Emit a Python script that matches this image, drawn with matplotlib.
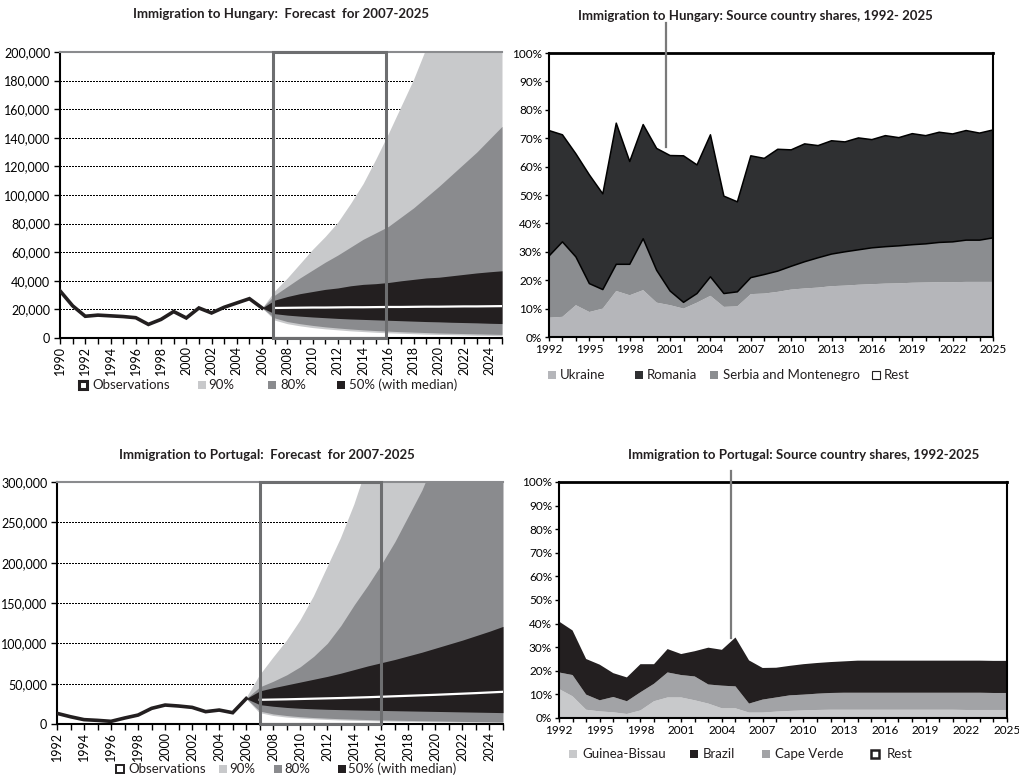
import numpy as np
import matplotlib
matplotlib.use("Agg")
import matplotlib.pyplot as plt
from matplotlib.patches import Rectangle
from matplotlib.ticker import FuncFormatter, MultipleLocator

plt.rcParams["font.family"] = ["Lato", "DejaVu Sans"]
plt.rcParams["font.size"] = 8.5

# ---- forecast data (persons per year) ----
hu_obs_years = np.arange(1990, 2007)
hu_obs = [33000, 22500, 15200, 16000, 15500, 15000, 14200, 9500, 13000, 18500,
          14000, 21000, 17500, 21500, 24500, 27500, 21000]

pt_obs_years = np.arange(1992, 2007)
pt_obs = [13200, 9000, 5400, 4500, 3300, 7400, 11100, 19400, 23500, 22300,
          20600, 15300, 17300, 14000, 31500]

fc_years = np.arange(2007, 2026)

hu_hi90 = [33000, 42000, 52000, 62000, 71000, 81000, 94000, 108000, 125000, 143000,
           162000, 181000, 203000, 226000, 250000, 276000, 304000, 334000, 366000]
hu_hi80 = [30000, 36000, 42000, 47500, 53000, 58000, 63500, 69000, 73500, 78000,
           84500, 91000, 98500, 106000, 114000, 122000, 130000, 139000, 148000]
hu_hi50 = [26500, 29000, 31000, 32500, 34000, 35000, 36500, 37500, 38000, 38800,
           40000, 41000, 42000, 42500, 43500, 44500, 45500, 46300, 47000]
hu_median = [21000, 21100, 21200, 21300, 21300, 21400, 21500, 21500, 21600, 21700,
             21700, 21800, 21900, 21900, 22000, 22100, 22100, 22200, 22300]
hu_lo50 = [17000, 16000, 15300, 14700, 14200, 13700, 13300, 13000, 12700, 12400,
           12100, 11800, 11500, 11300, 11000, 10800, 10600, 10300, 10100]
hu_lo80 = [14000, 11500, 10000, 8800, 7800, 7000, 6300, 5700, 5200, 4800,
           4400, 4100, 3800, 3500, 3300, 3100, 2900, 2700, 2500]
hu_lo90 = [12500, 10000, 8500, 7300, 6400, 5700, 5000, 4500, 4000, 3600,
           3300, 3000, 2700, 2500, 2300, 2100, 1900, 1800, 1600]

pt_hi90 = [60000, 82000, 103000, 128000, 158000, 194000, 230000, 272000, 322000, 380000,
           450000, 530000, 620000, 720000, 840000, 980000, 1140000, 1320000, 1530000]
pt_hi80 = [46000, 53000, 61000, 71000, 84000, 100000, 122000, 148000, 172000, 198000,
           226000, 258000, 290000, 330000, 370000, 415000, 465000, 520000, 580000]
pt_hi50 = [41000, 45000, 48500, 52000, 55500, 59000, 63000, 67500, 72000, 76000,
           80000, 84500, 89000, 94000, 99000, 104000, 109500, 115000, 121000]
pt_median = [30000, 30300, 30600, 31000, 31400, 31800, 32200, 32700, 33200, 33800,
             34400, 35000, 35600, 36200, 36900, 37600, 38300, 39100, 39900]
pt_lo50 = [24000, 22000, 20500, 19500, 18800, 18200, 17800, 17400, 17100, 16800,
           16500, 16200, 15900, 15600, 15300, 15000, 14700, 14400, 14100]
pt_lo80 = [16000, 12500, 10500, 9000, 8000, 7200, 6500, 6000, 5500, 5000,
           4700, 4400, 4100, 3800, 3500, 3200, 3000, 2800, 2600]
pt_lo90 = [13500, 10000, 8000, 6800, 5800, 5000, 4400, 3900, 3500, 3100,
           2800, 2500, 2300, 2100, 1900, 1700, 1600, 1500, 1400]

# highlighted forecast window
hu_window = (2006.9, 2015.8)
pt_window = (2007.0, 2016.0)

# ---- source country shares (%) ----
share_years = np.arange(1992, 2026)

hu_ukraine = [6.8, 7.1, 11.2, 8.8, 10.0, 16.2, 14.7, 16.5, 12.1, 11.2,
              10.0, 12.1, 14.5, 10.6, 10.8, 15.1, 15.3, 15.9, 16.7, 17.1,
              17.4, 17.9, 18.1, 18.4, 18.6, 18.8, 18.9, 19.1, 19.2, 19.3,
              19.3, 19.4, 19.4, 19.4]
hu_serbia = [21.7, 26.4, 17.0, 10.0, 6.7, 9.4, 10.9, 18.1, 11.4, 5.0,
             2.2, 3.2, 6.7, 4.7, 5.1, 5.8, 6.7, 7.3, 8.2, 9.4,
             10.5, 11.3, 11.9, 12.3, 12.8, 13.0, 13.2, 13.4, 13.6, 14.0,
             14.2, 14.7, 14.7, 15.5]
hu_romania = [44.2, 37.7, 36.3, 38.3, 33.7, 49.7, 36.2, 40.2, 42.9, 47.7,
              51.6, 45.3, 50.0, 34.3, 31.7, 42.9, 40.9, 42.9, 41.0, 41.5,
              39.5, 39.9, 38.7, 39.4, 38.1, 39.1, 38.1, 39.1, 38.1, 38.8,
              38.0, 38.6, 37.7, 38.0]

pt_guinea = [12.3, 9.2, 3.5, 2.8, 2.4, 1.7, 3.2, 7.1, 8.7, 8.7,
             7.5, 6.1, 4.1, 4.1, 2.3, 2.3, 2.7, 3.0, 3.2, 3.4,
             3.5, 3.5, 3.5, 3.5, 3.5, 3.5, 3.5, 3.5, 3.5, 3.5,
             3.4, 3.4, 3.4, 3.4]
pt_capeverde = [7.0, 9.0, 6.4, 4.7, 6.5, 5.4, 7.7, 7.4, 10.6, 9.5,
                10.1, 8.1, 9.6, 9.3, 3.8, 5.5, 6.0, 6.6, 6.7, 6.9,
                7.1, 7.2, 7.2, 7.2, 7.2, 7.2, 7.2, 7.2, 7.2, 7.2,
                7.3, 7.3, 7.2, 7.2]
pt_brazil = [21.6, 18.9, 15.1, 15.1, 10.1, 10.1, 11.9, 8.3, 9.9, 8.9,
             10.7, 15.6, 15.2, 20.7, 18.3, 13.4, 12.6, 12.5, 12.9, 13.0,
             13.1, 13.3, 13.6, 13.6, 13.6, 13.6, 13.6, 13.6, 13.6, 13.6,
             13.6, 13.6, 13.6, 13.6]

# pointer lines (year, share where the line stops, share at the top)
hu_pointer = (2000.7, 66.9, 110.6)
pt_pointer = (2004.7, 34.0, 104.7)

C90, C80, C50 = "#c8c9cb", "#8a8b8e", "#231f20"

W, H = 1020, 781
fig = plt.figure(figsize=(W / 100, H / 100), dpi=100)


def px_axes(x0, y0, x1, y1):
    return fig.add_axes([x0 / W, 1 - y1 / H, (x1 - x0) / W, (y1 - y0) / H])


def title(x, y, text):
    fig.text(x / W, 1 - y / H, text, ha="center", va="center",
             fontsize=9.5, fontweight="bold", color="#231f20")


def legend_row(y, items):
    # items: (marker centre x, text x, label, face, edge, edge width)
    s = 8
    for mx, tx, label, face, edge, lw in items:
        fig.add_artist(Rectangle(((mx - s / 2) / W, 1 - (y + s / 2) / H), s / W, s / H,
                                 transform=fig.transFigure, fc=face, ec=edge, lw=lw))
        fig.text(tx / W, 1 - y / H, label, va="center", fontsize=9.5, color="#231f20")


def fan_chart(ax, obs_years, obs, bands, median, ymax, ystep, window, label_years):
    # bands start from the last observed value
    x = np.concatenate([[obs_years[-1]], fc_years])

    def ext(v):
        return np.concatenate([[obs[-1]], v])

    ax.set_xlim(obs_years[0], 2025)
    ax.set_ylim(0, ymax)
    ax.yaxis.set_major_locator(MultipleLocator(ystep))
    ax.yaxis.set_major_formatter(FuncFormatter(lambda v, p: f"{v:,.0f}"))

    # dotted guide lines sit under the bands
    for v in np.arange(ystep, ymax, ystep):
        ax.plot([obs_years[0], 2025], [v, v], color="black", lw=0.9,
                linestyle=(0, (1.2, 1.2)), antialiased=False, zorder=1.5)

    for lo, hi, c in bands:
        ax.fill_between(x, ext(lo), ext(hi), color=c, lw=0, zorder=2)
    ax.plot(x[1:], median, color="white", lw=1.6, zorder=3)
    ax.plot(obs_years, obs, color="#231f20", lw=2.6, zorder=4, solid_joinstyle="miter")

    ax.add_patch(Rectangle((window[0], 0), window[1] - window[0], 1,
                           transform=ax.get_xaxis_transform(), fill=False,
                           ec="#6d6e70", lw=2.2, zorder=5, clip_on=False))

    ax.set_xticks(label_years)
    ax.set_xticklabels([str(y) for y in label_years], rotation=90)
    ax.xaxis.set_minor_locator(MultipleLocator(1))
    ax.tick_params(axis="x", which="both", length=4, width=1, direction="out",
                   pad=2, labelsize=9)
    ax.tick_params(axis="y", length=4, width=1, direction="out", pad=3, labelsize=9)

    ax.spines["right"].set_visible(False)
    ax.spines["top"].set_color("#8a8b8e")
    ax.spines["top"].set_linewidth(1.5)
    for side in ("left", "bottom"):
        ax.spines[side].set_color("black")
        ax.spines[side].set_linewidth(1.5)


def share_chart(ax, layers, colors, edges, pointer):
    ax.stackplot(share_years, *layers, colors=colors, lw=0)
    cum = np.cumsum(np.array(layers), axis=0)
    for i in edges:
        ax.plot(share_years, cum[i], color="black", lw=1.1)

    px, p0, p1 = pointer
    ax.plot([px, px], [p0, p1], color="#7a7a7a", lw=1.6, clip_on=False, zorder=6)

    ax.set_xlim(1992, 2025)
    ax.set_ylim(0, 100)
    ax.set_xticks(np.arange(1992, 2026, 3))
    ax.xaxis.set_minor_locator(MultipleLocator(1))
    ax.yaxis.set_major_locator(MultipleLocator(10))
    ax.yaxis.set_major_formatter(FuncFormatter(lambda v, p: f"{v:.0f}%"))
    ax.tick_params(axis="both", which="both", length=3, width=1, direction="out", pad=2)
    ax.tick_params(axis="x", labelsize=8.5)
    ax.tick_params(axis="y", labelsize=8.5)
    for side in ax.spines:
        ax.spines[side].set_color("black")
        ax.spines[side].set_linewidth(1.5)
    ax.spines["top"].set_linewidth(2)


# Hungary forecast
ax1 = px_axes(60, 52, 502, 338)
fan_chart(ax1, hu_obs_years, hu_obs,
          [(hu_lo90, hu_hi90, C90), (hu_lo80, hu_hi80, C80), (hu_lo50, hu_hi50, C50)],
          hu_median, 200000, 20000, hu_window, np.arange(1990, 2025, 2))
title(281, 14, "Immigration to Hungary:  Forecast  for 2007-2025")
legend_row(385, [(83, 92, "Observations", "white", "#231f20", 2.2),
                 (202, 208, "90%", C90, C90, 0),
                 (272, 280, "80%", C80, C80, 0),
                 (341, 349, "50% (with median)", C50, C50, 0)])

# Portugal forecast
ax3 = px_axes(57, 482, 503, 724)
fan_chart(ax3, pt_obs_years, pt_obs,
          [(pt_lo90, pt_hi90, C90), (pt_lo80, pt_hi80, C80), (pt_lo50, pt_hi50, C50)],
          pt_median, 300000, 50000, pt_window, np.arange(1992, 2025, 2))
title(267, 455, "Immigration to Portugal:  Forecast  for 2007-2025")
legend_row(769, [(120, 128, "Observations", "white", "#231f20", 1.4),
                 (223, 229, "90%", C90, C90, 0),
                 (278, 284, "80%", C80, C80, 0),
                 (342, 348, "50% (with median)", C50, C50, 0)])

# Hungary source countries
ax2 = px_axes(549, 53, 993, 337)
share_chart(ax2, [hu_ukraine, hu_serbia, hu_romania],
            ["#b5b6ba", "#8b8d90", "#2f3032"], [1, 2], hu_pointer)
title(755, 16, "Immigration to Hungary: Source country shares, 1992- 2025")
legend_row(375, [(552, 560, "Ukraine", "#b5b6ba", "#b5b6ba", 0),
                 (639, 647, "Romania", "#2f3032", "#2f3032", 0),
                 (714, 723, "Serbia and Montenegro", "#8b8d90", "#8b8d90", 0),
                 (876, 884, "Rest", "white", "#231f20", 0.8)])

# Portugal source countries
ax4 = px_axes(559, 482, 1007, 718)
share_chart(ax4, [pt_guinea, pt_capeverde, pt_brazil],
            ["#c8c9cb", "#a2a3a6", "#231f20"], [], pt_pointer)
title(804, 455, "Immigration to Portugal: Source country shares, 1992-2025")
legend_row(754, [(573, 582, "Guinea-Bissau", "#c8c9cb", "#c8c9cb", 0),
                 (694, 703, "Brazil", "#231f20", "#231f20", 0),
                 (766, 775, "Cape Verde", "#a2a3a6", "#a2a3a6", 0),
                 (875, 887, "Rest", "white", "#231f20", 1.8)])

fig.savefig("out.png", dpi=100)
